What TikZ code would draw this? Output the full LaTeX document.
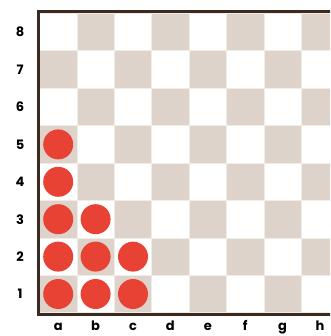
\documentclass[tikz,border=0pt]{standalone}
\usepackage{fontspec}
\setmainfont{Poppins}[BoldFont={* Bold}]
\definecolor{sqdark}{HTML}{DDD3CA}
\definecolor{sqline}{HTML}{F2ECE6}
\definecolor{frame}{HTML}{3A2A20}
\definecolor{piece}{HTML}{E84234}
\tikzset{
  cell/.style={draw=sqline, line width=0.8pt},
  darkcell/.style={cell, fill=sqdark},
  lightcell/.style={cell, fill=white},
  stone/.style={circle, fill=piece, minimum size=30pt, inner sep=0pt},
  lbl/.style={font=\bfseries\fontsize{13}{14}\selectfont, text=black, inner sep=0pt},
  border/.style={draw=frame, line width=3pt}
}
\begin{document}
\begin{tikzpicture}[x=1pt,y=-1pt]
\useasboundingbox (0,0) rectangle (330,336);
\begin{scope}
\clip (0,0) rectangle (330,336);
\foreach \c in {0,...,7}{
  \foreach \r in {1,...,8}{
    \pgfmathtruncatemacro{\myparity}{mod(\c+\r,2)}
    \ifnum\myparity=1
      \path[darkcell] ({39.5+37.4*\c},{13.5+(8-\r)*37.4}) rectangle ++(37.4,37.4);
    \else
      \path[lightcell] ({39.5+37.4*\c},{13.5+(8-\r)*37.4}) rectangle ++(37.4,37.4);
    \fi
  }
}
\coordinate (tl) at (38,12);
\coordinate (bl) at (38,314.7);
\coordinate (tr) at (340,12);
\coordinate (br) at (340,314.7);
\draw[border] (tr) -- (tl) -- (bl) -- (br);
\end{scope}
% row labels
\foreach \r in {1,...,8}{
  \node[lbl] (row\r) at (20,{13.5+(8-\r)*37.4+18.7}) {\r};
}
% column labels
\foreach \l [count=\i from 0] in {a,b,c,d,e,f,g,h}{
  \node[lbl, anchor=base] (col\l) at ({39.5+37.4*\i+18.7},330) {\l};
}
% pieces
\foreach \c/\r [count=\k] in {0/1,0/2,0/3,0/4,0/5,1/1,1/2,1/3,2/1,2/2}{
  \node[stone] (p\k) at ({39.5+37.4*\c+18.7},{13.5+(8-\r)*37.4+18.7}) {};
}
\end{tikzpicture}
\end{document}
